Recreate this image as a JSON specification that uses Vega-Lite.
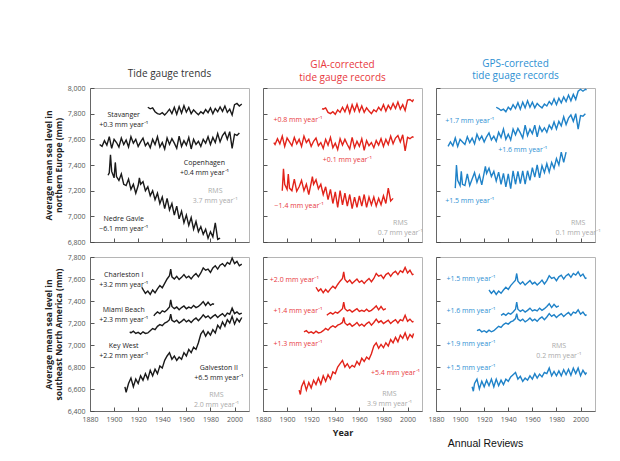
{
"$schema": "https://vega.github.io/schema/vega-lite/v6.json",
"padding": {"left": 43, "top": 58, "right": 5, "bottom": 5},
"background": "white",
"bounds": "flush",
"columns": 3,
"spacing": {"row": 15, "column": 14},
"config": {
  "view": {"stroke": "#b5b5b5", "strokeWidth": 1},
  "axis": {"grid": false, "domainColor": "#666", "tickColor": "#444", "tickWidth": 0.9, "labelColor": "#555", "labelFont": "Open Sans", "labelFontSize": 7, "labelOverlap": false, "labelFlush": false, "labelBound": false, "titleFont": "Open Sans", "titleColor": "#222"},
  "title": {"font": "Open Sans", "fontSize": 10, "fontWeight": "normal", "offset": 5, "lineHeight": 12.5},
  "text": {"font": "Open Sans", "fontSize": 7, "lineBreak": "\n", "lineHeight": 10}
},
"datasets": {
"L": [
{"k":"a1","x":1928,"y":7850},{"k":"a1","x":1930,"y":7838},{"k":"a1","x":1932,"y":7845},{"k":"a1","x":1934,"y":7815},{"k":"a1","x":1936,"y":7800},{"k":"a1","x":1938,"y":7795},{"k":"a1","x":1940,"y":7808},{"k":"a1","x":1942,"y":7790},{"k":"a1","x":1944,"y":7810},{"k":"a1","x":1946,"y":7835},{"k":"a1","x":1948,"y":7800},{"k":"a1","x":1950,"y":7850},{"k":"a1","x":1952,"y":7795},{"k":"a1","x":1954,"y":7855},{"k":"a1","x":1956,"y":7805},{"k":"a1","x":1958,"y":7862},{"k":"a1","x":1960,"y":7812},{"k":"a1","x":1962,"y":7848},{"k":"a1","x":1964,"y":7800},{"k":"a1","x":1966,"y":7830},{"k":"a1","x":1968,"y":7810},{"k":"a1","x":1970,"y":7792},{"k":"a1","x":1972,"y":7815},{"k":"a1","x":1974,"y":7800},{"k":"a1","x":1976,"y":7832},{"k":"a1","x":1978,"y":7808},{"k":"a1","x":1980,"y":7845},{"k":"a1","x":1982,"y":7800},{"k":"a1","x":1984,"y":7840},{"k":"a1","x":1986,"y":7815},{"k":"a1","x":1988,"y":7852},{"k":"a1","x":1990,"y":7818},{"k":"a1","x":1992,"y":7860},{"k":"a1","x":1994,"y":7810},{"k":"a1","x":1996,"y":7835},{"k":"a1","x":1998,"y":7790},{"k":"a1","x":2000,"y":7870},{"k":"a1","x":2002,"y":7880},{"k":"a1","x":2004,"y":7860},{"k":"a1","x":2006,"y":7875},
{"k":"a2","x":1888,"y":7560},{"k":"a2","x":1890,"y":7545},{"k":"a2","x":1892,"y":7590},{"k":"a2","x":1894,"y":7555},{"k":"a2","x":1896,"y":7620},{"k":"a2","x":1898,"y":7530},{"k":"a2","x":1900,"y":7600},{"k":"a2","x":1902,"y":7575},{"k":"a2","x":1904,"y":7540},{"k":"a2","x":1906,"y":7610},{"k":"a2","x":1908,"y":7560},{"k":"a2","x":1910,"y":7595},{"k":"a2","x":1912,"y":7540},{"k":"a2","x":1914,"y":7620},{"k":"a2","x":1916,"y":7570},{"k":"a2","x":1918,"y":7600},{"k":"a2","x":1920,"y":7545},{"k":"a2","x":1922,"y":7580},{"k":"a2","x":1924,"y":7610},{"k":"a2","x":1926,"y":7550},{"k":"a2","x":1928,"y":7575},{"k":"a2","x":1930,"y":7535},{"k":"a2","x":1932,"y":7600},{"k":"a2","x":1934,"y":7560},{"k":"a2","x":1936,"y":7620},{"k":"a2","x":1938,"y":7540},{"k":"a2","x":1940,"y":7575},{"k":"a2","x":1942,"y":7525},{"k":"a2","x":1944,"y":7610},{"k":"a2","x":1946,"y":7560},{"k":"a2","x":1948,"y":7605},{"k":"a2","x":1950,"y":7570},{"k":"a2","x":1952,"y":7530},{"k":"a2","x":1954,"y":7625},{"k":"a2","x":1956,"y":7545},{"k":"a2","x":1958,"y":7590},{"k":"a2","x":1960,"y":7555},{"k":"a2","x":1962,"y":7615},{"k":"a2","x":1964,"y":7525},{"k":"a2","x":1966,"y":7600},{"k":"a2","x":1968,"y":7560},{"k":"a2","x":1970,"y":7585},{"k":"a2","x":1972,"y":7545},{"k":"a2","x":1974,"y":7600},{"k":"a2","x":1976,"y":7570},{"k":"a2","x":1978,"y":7620},{"k":"a2","x":1980,"y":7560},{"k":"a2","x":1982,"y":7615},{"k":"a2","x":1984,"y":7575},{"k":"a2","x":1986,"y":7645},{"k":"a2","x":1988,"y":7580},{"k":"a2","x":1990,"y":7630},{"k":"a2","x":1992,"y":7655},{"k":"a2","x":1994,"y":7600},{"k":"a2","x":1996,"y":7660},{"k":"a2","x":1998,"y":7530},{"k":"a2","x":2000,"y":7640},{"k":"a2","x":2002,"y":7630},{"k":"a2","x":2004,"y":7650},
{"k":"a3","x":1895,"y":7320},{"k":"a3","x":1896,"y":7340},{"k":"a3","x":1897,"y":7480},{"k":"a3","x":1898,"y":7350},{"k":"a3","x":1900,"y":7300},{"k":"a3","x":1901,"y":7420},{"k":"a3","x":1902,"y":7310},{"k":"a3","x":1904,"y":7280},{"k":"a3","x":1906,"y":7330},{"k":"a3","x":1908,"y":7250},{"k":"a3","x":1910,"y":7240},{"k":"a3","x":1912,"y":7290},{"k":"a3","x":1914,"y":7210},{"k":"a3","x":1916,"y":7250},{"k":"a3","x":1918,"y":7180},{"k":"a3","x":1920,"y":7240},{"k":"a3","x":1921,"y":7300},{"k":"a3","x":1922,"y":7250},{"k":"a3","x":1924,"y":7270},{"k":"a3","x":1926,"y":7200},{"k":"a3","x":1928,"y":7230},{"k":"a3","x":1930,"y":7160},{"k":"a3","x":1932,"y":7200},{"k":"a3","x":1934,"y":7130},{"k":"a3","x":1936,"y":7180},{"k":"a3","x":1938,"y":7100},{"k":"a3","x":1940,"y":7150},{"k":"a3","x":1942,"y":7060},{"k":"a3","x":1944,"y":7140},{"k":"a3","x":1946,"y":7050},{"k":"a3","x":1948,"y":7100},{"k":"a3","x":1950,"y":7010},{"k":"a3","x":1952,"y":7080},{"k":"a3","x":1954,"y":6980},{"k":"a3","x":1956,"y":7040},{"k":"a3","x":1958,"y":6950},{"k":"a3","x":1960,"y":7010},{"k":"a3","x":1962,"y":6930},{"k":"a3","x":1964,"y":6990},{"k":"a3","x":1966,"y":6900},{"k":"a3","x":1968,"y":6960},{"k":"a3","x":1970,"y":6880},{"k":"a3","x":1972,"y":6920},{"k":"a3","x":1974,"y":6860},{"k":"a3","x":1976,"y":6900},{"k":"a3","x":1978,"y":6830},{"k":"a3","x":1980,"y":6880},{"k":"a3","x":1982,"y":6840},{"k":"a3","x":1984,"y":6950},{"k":"a3","x":1986,"y":6820},{"k":"a3","x":1988,"y":6830},
{"k":"b1","x":1929,"y":7840},{"k":"b1","x":1930,"y":7835},{"k":"b1","x":1932,"y":7845},{"k":"b1","x":1934,"y":7810},{"k":"b1","x":1936,"y":7800},{"k":"b1","x":1938,"y":7815},{"k":"b1","x":1940,"y":7795},{"k":"b1","x":1942,"y":7830},{"k":"b1","x":1944,"y":7810},{"k":"b1","x":1946,"y":7850},{"k":"b1","x":1948,"y":7815},{"k":"b1","x":1950,"y":7865},{"k":"b1","x":1952,"y":7805},{"k":"b1","x":1954,"y":7870},{"k":"b1","x":1956,"y":7820},{"k":"b1","x":1958,"y":7875},{"k":"b1","x":1960,"y":7815},{"k":"b1","x":1962,"y":7860},{"k":"b1","x":1964,"y":7810},{"k":"b1","x":1966,"y":7845},{"k":"b1","x":1968,"y":7820},{"k":"b1","x":1970,"y":7800},{"k":"b1","x":1972,"y":7830},{"k":"b1","x":1974,"y":7815},{"k":"b1","x":1976,"y":7850},{"k":"b1","x":1978,"y":7825},{"k":"b1","x":1980,"y":7870},{"k":"b1","x":1982,"y":7820},{"k":"b1","x":1984,"y":7865},{"k":"b1","x":1986,"y":7835},{"k":"b1","x":1988,"y":7880},{"k":"b1","x":1990,"y":7840},{"k":"b1","x":1992,"y":7890},{"k":"b1","x":1994,"y":7835},{"k":"b1","x":1996,"y":7870},{"k":"b1","x":1998,"y":7825},{"k":"b1","x":2000,"y":7905},{"k":"b1","x":2002,"y":7910},{"k":"b1","x":2004,"y":7895},{"k":"b1","x":2005,"y":7912},
{"k":"b2","x":1889,"y":7575},{"k":"b2","x":1890,"y":7560},{"k":"b2","x":1892,"y":7605},{"k":"b2","x":1894,"y":7565},{"k":"b2","x":1896,"y":7625},{"k":"b2","x":1898,"y":7545},{"k":"b2","x":1900,"y":7610},{"k":"b2","x":1902,"y":7580},{"k":"b2","x":1904,"y":7550},{"k":"b2","x":1906,"y":7615},{"k":"b2","x":1908,"y":7565},{"k":"b2","x":1910,"y":7600},{"k":"b2","x":1912,"y":7545},{"k":"b2","x":1914,"y":7625},{"k":"b2","x":1916,"y":7575},{"k":"b2","x":1918,"y":7600},{"k":"b2","x":1920,"y":7545},{"k":"b2","x":1922,"y":7585},{"k":"b2","x":1924,"y":7610},{"k":"b2","x":1926,"y":7550},{"k":"b2","x":1928,"y":7575},{"k":"b2","x":1930,"y":7530},{"k":"b2","x":1932,"y":7600},{"k":"b2","x":1934,"y":7555},{"k":"b2","x":1936,"y":7615},{"k":"b2","x":1938,"y":7535},{"k":"b2","x":1940,"y":7570},{"k":"b2","x":1942,"y":7520},{"k":"b2","x":1944,"y":7605},{"k":"b2","x":1946,"y":7555},{"k":"b2","x":1948,"y":7600},{"k":"b2","x":1950,"y":7560},{"k":"b2","x":1952,"y":7525},{"k":"b2","x":1954,"y":7615},{"k":"b2","x":1956,"y":7535},{"k":"b2","x":1958,"y":7585},{"k":"b2","x":1960,"y":7545},{"k":"b2","x":1962,"y":7605},{"k":"b2","x":1964,"y":7515},{"k":"b2","x":1966,"y":7590},{"k":"b2","x":1968,"y":7550},{"k":"b2","x":1970,"y":7575},{"k":"b2","x":1972,"y":7535},{"k":"b2","x":1974,"y":7590},{"k":"b2","x":1976,"y":7555},{"k":"b2","x":1978,"y":7605},{"k":"b2","x":1980,"y":7545},{"k":"b2","x":1982,"y":7600},{"k":"b2","x":1984,"y":7560},{"k":"b2","x":1986,"y":7625},{"k":"b2","x":1988,"y":7565},{"k":"b2","x":1990,"y":7610},{"k":"b2","x":1992,"y":7630},{"k":"b2","x":1994,"y":7580},{"k":"b2","x":1996,"y":7635},{"k":"b2","x":1998,"y":7510},{"k":"b2","x":2000,"y":7615},{"k":"b2","x":2002,"y":7605},{"k":"b2","x":2004,"y":7620},{"k":"b2","x":2005,"y":7615},
{"k":"b3","x":1896,"y":7200},{"k":"b3","x":1897,"y":7370},{"k":"b3","x":1898,"y":7250},{"k":"b3","x":1900,"y":7210},{"k":"b3","x":1901,"y":7330},{"k":"b3","x":1902,"y":7220},{"k":"b3","x":1904,"y":7200},{"k":"b3","x":1906,"y":7290},{"k":"b3","x":1908,"y":7195},{"k":"b3","x":1910,"y":7230},{"k":"b3","x":1912,"y":7280},{"k":"b3","x":1914,"y":7200},{"k":"b3","x":1916,"y":7250},{"k":"b3","x":1918,"y":7170},{"k":"b3","x":1920,"y":7260},{"k":"b3","x":1921,"y":7310},{"k":"b3","x":1922,"y":7250},{"k":"b3","x":1924,"y":7285},{"k":"b3","x":1926,"y":7215},{"k":"b3","x":1928,"y":7250},{"k":"b3","x":1930,"y":7170},{"k":"b3","x":1932,"y":7230},{"k":"b3","x":1934,"y":7130},{"k":"b3","x":1936,"y":7210},{"k":"b3","x":1938,"y":7100},{"k":"b3","x":1940,"y":7190},{"k":"b3","x":1942,"y":7070},{"k":"b3","x":1944,"y":7200},{"k":"b3","x":1946,"y":7090},{"k":"b3","x":1948,"y":7180},{"k":"b3","x":1950,"y":7080},{"k":"b3","x":1952,"y":7170},{"k":"b3","x":1954,"y":7060},{"k":"b3","x":1956,"y":7150},{"k":"b3","x":1958,"y":7070},{"k":"b3","x":1960,"y":7160},{"k":"b3","x":1962,"y":7080},{"k":"b3","x":1964,"y":7170},{"k":"b3","x":1966,"y":7070},{"k":"b3","x":1968,"y":7150},{"k":"b3","x":1970,"y":7090},{"k":"b3","x":1972,"y":7150},{"k":"b3","x":1974,"y":7080},{"k":"b3","x":1976,"y":7140},{"k":"b3","x":1978,"y":7090},{"k":"b3","x":1980,"y":7160},{"k":"b3","x":1982,"y":7100},{"k":"b3","x":1984,"y":7220},{"k":"b3","x":1986,"y":7120},{"k":"b3","x":1988,"y":7140},
{"k":"c1","x":1930,"y":7850},{"k":"c1","x":1932,"y":7840},{"k":"c1","x":1934,"y":7825},{"k":"c1","x":1936,"y":7835},{"k":"c1","x":1938,"y":7815},{"k":"c1","x":1940,"y":7850},{"k":"c1","x":1942,"y":7830},{"k":"c1","x":1944,"y":7870},{"k":"c1","x":1946,"y":7840},{"k":"c1","x":1948,"y":7885},{"k":"c1","x":1950,"y":7835},{"k":"c1","x":1952,"y":7890},{"k":"c1","x":1954,"y":7845},{"k":"c1","x":1956,"y":7900},{"k":"c1","x":1958,"y":7850},{"k":"c1","x":1960,"y":7890},{"k":"c1","x":1962,"y":7845},{"k":"c1","x":1964,"y":7880},{"k":"c1","x":1966,"y":7860},{"k":"c1","x":1968,"y":7845},{"k":"c1","x":1970,"y":7875},{"k":"c1","x":1972,"y":7860},{"k":"c1","x":1974,"y":7895},{"k":"c1","x":1976,"y":7870},{"k":"c1","x":1978,"y":7915},{"k":"c1","x":1980,"y":7870},{"k":"c1","x":1982,"y":7920},{"k":"c1","x":1984,"y":7885},{"k":"c1","x":1986,"y":7930},{"k":"c1","x":1988,"y":7895},{"k":"c1","x":1990,"y":7945},{"k":"c1","x":1992,"y":7900},{"k":"c1","x":1994,"y":7950},{"k":"c1","x":1996,"y":7910},{"k":"c1","x":1998,"y":7975},{"k":"c1","x":2000,"y":7990},{"k":"c1","x":2002,"y":7975},{"k":"c1","x":2004,"y":7990},{"k":"c1","x":2005,"y":7985},
{"k":"c2","x":1890,"y":7545},{"k":"c2","x":1892,"y":7580},{"k":"c2","x":1894,"y":7550},{"k":"c2","x":1896,"y":7610},{"k":"c2","x":1898,"y":7545},{"k":"c2","x":1900,"y":7600},{"k":"c2","x":1902,"y":7580},{"k":"c2","x":1904,"y":7560},{"k":"c2","x":1906,"y":7620},{"k":"c2","x":1908,"y":7575},{"k":"c2","x":1910,"y":7610},{"k":"c2","x":1912,"y":7565},{"k":"c2","x":1914,"y":7640},{"k":"c2","x":1916,"y":7595},{"k":"c2","x":1918,"y":7625},{"k":"c2","x":1920,"y":7580},{"k":"c2","x":1922,"y":7620},{"k":"c2","x":1924,"y":7650},{"k":"c2","x":1926,"y":7595},{"k":"c2","x":1928,"y":7625},{"k":"c2","x":1930,"y":7585},{"k":"c2","x":1932,"y":7655},{"k":"c2","x":1934,"y":7615},{"k":"c2","x":1936,"y":7680},{"k":"c2","x":1938,"y":7600},{"k":"c2","x":1940,"y":7640},{"k":"c2","x":1942,"y":7595},{"k":"c2","x":1944,"y":7680},{"k":"c2","x":1946,"y":7635},{"k":"c2","x":1948,"y":7685},{"k":"c2","x":1950,"y":7650},{"k":"c2","x":1952,"y":7610},{"k":"c2","x":1954,"y":7710},{"k":"c2","x":1956,"y":7630},{"k":"c2","x":1958,"y":7680},{"k":"c2","x":1960,"y":7645},{"k":"c2","x":1962,"y":7710},{"k":"c2","x":1964,"y":7620},{"k":"c2","x":1966,"y":7700},{"k":"c2","x":1968,"y":7660},{"k":"c2","x":1970,"y":7690},{"k":"c2","x":1972,"y":7655},{"k":"c2","x":1974,"y":7710},{"k":"c2","x":1976,"y":7680},{"k":"c2","x":1978,"y":7735},{"k":"c2","x":1980,"y":7680},{"k":"c2","x":1982,"y":7740},{"k":"c2","x":1984,"y":7705},{"k":"c2","x":1986,"y":7775},{"k":"c2","x":1988,"y":7715},{"k":"c2","x":1990,"y":7765},{"k":"c2","x":1992,"y":7790},{"k":"c2","x":1994,"y":7740},{"k":"c2","x":1996,"y":7800},{"k":"c2","x":1998,"y":7680},{"k":"c2","x":2000,"y":7785},{"k":"c2","x":2002,"y":7780},{"k":"c2","x":2004,"y":7800},
{"k":"c3","x":1896,"y":7220},{"k":"c3","x":1897,"y":7400},{"k":"c3","x":1898,"y":7280},{"k":"c3","x":1900,"y":7240},{"k":"c3","x":1901,"y":7350},{"k":"c3","x":1902,"y":7250},{"k":"c3","x":1904,"y":7240},{"k":"c3","x":1906,"y":7330},{"k":"c3","x":1908,"y":7240},{"k":"c3","x":1910,"y":7290},{"k":"c3","x":1912,"y":7340},{"k":"c3","x":1914,"y":7265},{"k":"c3","x":1916,"y":7320},{"k":"c3","x":1918,"y":7245},{"k":"c3","x":1920,"y":7340},{"k":"c3","x":1921,"y":7390},{"k":"c3","x":1922,"y":7335},{"k":"c3","x":1924,"y":7375},{"k":"c3","x":1926,"y":7310},{"k":"c3","x":1928,"y":7350},{"k":"c3","x":1930,"y":7275},{"k":"c3","x":1932,"y":7345},{"k":"c3","x":1934,"y":7250},{"k":"c3","x":1936,"y":7335},{"k":"c3","x":1938,"y":7230},{"k":"c3","x":1940,"y":7330},{"k":"c3","x":1942,"y":7215},{"k":"c3","x":1944,"y":7355},{"k":"c3","x":1946,"y":7250},{"k":"c3","x":1948,"y":7350},{"k":"c3","x":1950,"y":7255},{"k":"c3","x":1952,"y":7355},{"k":"c3","x":1954,"y":7250},{"k":"c3","x":1956,"y":7355},{"k":"c3","x":1958,"y":7280},{"k":"c3","x":1960,"y":7380},{"k":"c3","x":1962,"y":7305},{"k":"c3","x":1964,"y":7400},{"k":"c3","x":1966,"y":7300},{"k":"c3","x":1968,"y":7395},{"k":"c3","x":1970,"y":7340},{"k":"c3","x":1972,"y":7410},{"k":"c3","x":1974,"y":7345},{"k":"c3","x":1976,"y":7420},{"k":"c3","x":1978,"y":7375},{"k":"c3","x":1980,"y":7450},{"k":"c3","x":1982,"y":7400},{"k":"c3","x":1984,"y":7500},{"k":"c3","x":1986,"y":7420},{"k":"c3","x":1988,"y":7500},
{"k":"d1","x":1923,"y":7525},{"k":"d1","x":1924,"y":7505},{"k":"d1","x":1926,"y":7470},{"k":"d1","x":1928,"y":7490},{"k":"d1","x":1930,"y":7460},{"k":"d1","x":1932,"y":7500},{"k":"d1","x":1934,"y":7475},{"k":"d1","x":1936,"y":7510},{"k":"d1","x":1938,"y":7540},{"k":"d1","x":1940,"y":7520},{"k":"d1","x":1942,"y":7560},{"k":"d1","x":1944,"y":7600},{"k":"d1","x":1946,"y":7630},{"k":"d1","x":1947,"y":7690},{"k":"d1","x":1948,"y":7620},{"k":"d1","x":1950,"y":7600},{"k":"d1","x":1952,"y":7625},{"k":"d1","x":1954,"y":7595},{"k":"d1","x":1956,"y":7615},{"k":"d1","x":1958,"y":7640},{"k":"d1","x":1960,"y":7610},{"k":"d1","x":1962,"y":7625},{"k":"d1","x":1964,"y":7600},{"k":"d1","x":1966,"y":7630},{"k":"d1","x":1968,"y":7650},{"k":"d1","x":1970,"y":7620},{"k":"d1","x":1972,"y":7655},{"k":"d1","x":1974,"y":7700},{"k":"d1","x":1976,"y":7680},{"k":"d1","x":1978,"y":7690},{"k":"d1","x":1980,"y":7660},{"k":"d1","x":1982,"y":7700},{"k":"d1","x":1984,"y":7720},{"k":"d1","x":1986,"y":7690},{"k":"d1","x":1988,"y":7725},{"k":"d1","x":1990,"y":7740},{"k":"d1","x":1992,"y":7715},{"k":"d1","x":1994,"y":7750},{"k":"d1","x":1996,"y":7735},{"k":"d1","x":1998,"y":7790},{"k":"d1","x":2000,"y":7740},{"k":"d1","x":2002,"y":7760},{"k":"d1","x":2004,"y":7720},{"k":"d1","x":2006,"y":7735},
{"k":"d2","x":1933,"y":7265},{"k":"d2","x":1934,"y":7280},{"k":"d2","x":1936,"y":7300},{"k":"d2","x":1938,"y":7285},{"k":"d2","x":1940,"y":7310},{"k":"d2","x":1942,"y":7300},{"k":"d2","x":1944,"y":7320},{"k":"d2","x":1946,"y":7345},{"k":"d2","x":1947,"y":7410},{"k":"d2","x":1948,"y":7350},{"k":"d2","x":1950,"y":7330},{"k":"d2","x":1952,"y":7345},{"k":"d2","x":1954,"y":7320},{"k":"d2","x":1956,"y":7340},{"k":"d2","x":1958,"y":7355},{"k":"d2","x":1960,"y":7330},{"k":"d2","x":1962,"y":7345},{"k":"d2","x":1964,"y":7335},{"k":"d2","x":1966,"y":7360},{"k":"d2","x":1968,"y":7340},{"k":"d2","x":1970,"y":7350},{"k":"d2","x":1972,"y":7370},{"k":"d2","x":1974,"y":7395},{"k":"d2","x":1976,"y":7360},{"k":"d2","x":1978,"y":7390},{"k":"d2","x":1980,"y":7360},{"k":"d2","x":1982,"y":7375},{"k":"d2","x":1983,"y":7370},
{"k":"d3","x":1913,"y":7120},{"k":"d3","x":1914,"y":7110},{"k":"d3","x":1916,"y":7125},{"k":"d3","x":1918,"y":7105},{"k":"d3","x":1920,"y":7115},{"k":"d3","x":1922,"y":7100},{"k":"d3","x":1924,"y":7120},{"k":"d3","x":1926,"y":7105},{"k":"d3","x":1928,"y":7110},{"k":"d3","x":1930,"y":7130},{"k":"d3","x":1932,"y":7150},{"k":"d3","x":1934,"y":7140},{"k":"d3","x":1936,"y":7170},{"k":"d3","x":1938,"y":7185},{"k":"d3","x":1940,"y":7175},{"k":"d3","x":1942,"y":7200},{"k":"d3","x":1944,"y":7210},{"k":"d3","x":1946,"y":7230},{"k":"d3","x":1947,"y":7280},{"k":"d3","x":1948,"y":7225},{"k":"d3","x":1950,"y":7210},{"k":"d3","x":1952,"y":7225},{"k":"d3","x":1954,"y":7200},{"k":"d3","x":1956,"y":7215},{"k":"d3","x":1958,"y":7235},{"k":"d3","x":1960,"y":7210},{"k":"d3","x":1962,"y":7225},{"k":"d3","x":1964,"y":7205},{"k":"d3","x":1966,"y":7230},{"k":"d3","x":1968,"y":7245},{"k":"d3","x":1970,"y":7220},{"k":"d3","x":1972,"y":7245},{"k":"d3","x":1974,"y":7275},{"k":"d3","x":1976,"y":7250},{"k":"d3","x":1978,"y":7265},{"k":"d3","x":1980,"y":7240},{"k":"d3","x":1982,"y":7260},{"k":"d3","x":1984,"y":7275},{"k":"d3","x":1986,"y":7250},{"k":"d3","x":1988,"y":7270},{"k":"d3","x":1990,"y":7285},{"k":"d3","x":1992,"y":7260},{"k":"d3","x":1994,"y":7290},{"k":"d3","x":1996,"y":7280},{"k":"d3","x":1998,"y":7335},{"k":"d3","x":2000,"y":7285},{"k":"d3","x":2002,"y":7300},{"k":"d3","x":2004,"y":7280},{"k":"d3","x":2006,"y":7290},
{"k":"d4","x":1909,"y":6620},{"k":"d4","x":1910,"y":6570},{"k":"d4","x":1912,"y":6650},{"k":"d4","x":1914,"y":6700},{"k":"d4","x":1916,"y":6620},{"k":"d4","x":1918,"y":6690},{"k":"d4","x":1920,"y":6650},{"k":"d4","x":1922,"y":6720},{"k":"d4","x":1924,"y":6680},{"k":"d4","x":1926,"y":6740},{"k":"d4","x":1928,"y":6690},{"k":"d4","x":1930,"y":6770},{"k":"d4","x":1932,"y":6720},{"k":"d4","x":1934,"y":6780},{"k":"d4","x":1936,"y":6740},{"k":"d4","x":1938,"y":6810},{"k":"d4","x":1940,"y":6790},{"k":"d4","x":1942,"y":6860},{"k":"d4","x":1944,"y":6900},{"k":"d4","x":1946,"y":6930},{"k":"d4","x":1948,"y":6870},{"k":"d4","x":1950,"y":6900},{"k":"d4","x":1952,"y":6860},{"k":"d4","x":1954,"y":6890},{"k":"d4","x":1956,"y":6870},{"k":"d4","x":1958,"y":6930},{"k":"d4","x":1960,"y":6900},{"k":"d4","x":1962,"y":6960},{"k":"d4","x":1964,"y":6930},{"k":"d4","x":1966,"y":6980},{"k":"d4","x":1968,"y":6960},{"k":"d4","x":1970,"y":7020},{"k":"d4","x":1972,"y":7100},{"k":"d4","x":1974,"y":7130},{"k":"d4","x":1976,"y":7080},{"k":"d4","x":1978,"y":7120},{"k":"d4","x":1980,"y":7090},{"k":"d4","x":1982,"y":7140},{"k":"d4","x":1984,"y":7110},{"k":"d4","x":1986,"y":7180},{"k":"d4","x":1988,"y":7150},{"k":"d4","x":1990,"y":7210},{"k":"d4","x":1992,"y":7170},{"k":"d4","x":1994,"y":7230},{"k":"d4","x":1996,"y":7200},{"k":"d4","x":1998,"y":7260},{"k":"d4","x":2000,"y":7190},{"k":"d4","x":2002,"y":7240},{"k":"d4","x":2004,"y":7210},{"k":"d4","x":2006,"y":7250},
{"k":"e1","x":1924,"y":7525},{"k":"e1","x":1926,"y":7490},{"k":"e1","x":1928,"y":7510},{"k":"e1","x":1930,"y":7475},{"k":"e1","x":1932,"y":7505},{"k":"e1","x":1934,"y":7480},{"k":"e1","x":1936,"y":7510},{"k":"e1","x":1938,"y":7535},{"k":"e1","x":1940,"y":7515},{"k":"e1","x":1942,"y":7550},{"k":"e1","x":1944,"y":7580},{"k":"e1","x":1946,"y":7605},{"k":"e1","x":1947,"y":7665},{"k":"e1","x":1948,"y":7595},{"k":"e1","x":1950,"y":7570},{"k":"e1","x":1952,"y":7590},{"k":"e1","x":1954,"y":7560},{"k":"e1","x":1956,"y":7580},{"k":"e1","x":1958,"y":7600},{"k":"e1","x":1960,"y":7570},{"k":"e1","x":1962,"y":7585},{"k":"e1","x":1964,"y":7560},{"k":"e1","x":1966,"y":7585},{"k":"e1","x":1968,"y":7605},{"k":"e1","x":1970,"y":7575},{"k":"e1","x":1972,"y":7605},{"k":"e1","x":1974,"y":7650},{"k":"e1","x":1976,"y":7625},{"k":"e1","x":1978,"y":7635},{"k":"e1","x":1980,"y":7605},{"k":"e1","x":1982,"y":7640},{"k":"e1","x":1984,"y":7655},{"k":"e1","x":1986,"y":7625},{"k":"e1","x":1988,"y":7655},{"k":"e1","x":1990,"y":7670},{"k":"e1","x":1992,"y":7640},{"k":"e1","x":1994,"y":7675},{"k":"e1","x":1996,"y":7660},{"k":"e1","x":1998,"y":7705},{"k":"e1","x":2000,"y":7655},{"k":"e1","x":2002,"y":7680},{"k":"e1","x":2004,"y":7640},{"k":"e1","x":2005,"y":7645},
{"k":"e2","x":1933,"y":7270},{"k":"e2","x":1934,"y":7280},{"k":"e2","x":1936,"y":7295},{"k":"e2","x":1938,"y":7280},{"k":"e2","x":1940,"y":7300},{"k":"e2","x":1942,"y":7290},{"k":"e2","x":1944,"y":7310},{"k":"e2","x":1946,"y":7330},{"k":"e2","x":1947,"y":7390},{"k":"e2","x":1948,"y":7330},{"k":"e2","x":1950,"y":7310},{"k":"e2","x":1952,"y":7320},{"k":"e2","x":1954,"y":7300},{"k":"e2","x":1956,"y":7315},{"k":"e2","x":1958,"y":7330},{"k":"e2","x":1960,"y":7305},{"k":"e2","x":1962,"y":7315},{"k":"e2","x":1964,"y":7305},{"k":"e2","x":1966,"y":7325},{"k":"e2","x":1968,"y":7305},{"k":"e2","x":1970,"y":7315},{"k":"e2","x":1972,"y":7335},{"k":"e2","x":1974,"y":7355},{"k":"e2","x":1976,"y":7320},{"k":"e2","x":1978,"y":7350},{"k":"e2","x":1980,"y":7320},{"k":"e2","x":1982,"y":7330},
{"k":"e3","x":1914,"y":7120},{"k":"e3","x":1916,"y":7130},{"k":"e3","x":1918,"y":7110},{"k":"e3","x":1920,"y":7120},{"k":"e3","x":1922,"y":7105},{"k":"e3","x":1924,"y":7125},{"k":"e3","x":1926,"y":7110},{"k":"e3","x":1928,"y":7115},{"k":"e3","x":1930,"y":7130},{"k":"e3","x":1932,"y":7150},{"k":"e3","x":1934,"y":7135},{"k":"e3","x":1936,"y":7160},{"k":"e3","x":1938,"y":7175},{"k":"e3","x":1940,"y":7160},{"k":"e3","x":1942,"y":7180},{"k":"e3","x":1944,"y":7190},{"k":"e3","x":1946,"y":7205},{"k":"e3","x":1947,"y":7250},{"k":"e3","x":1948,"y":7200},{"k":"e3","x":1950,"y":7180},{"k":"e3","x":1952,"y":7195},{"k":"e3","x":1954,"y":7170},{"k":"e3","x":1956,"y":7185},{"k":"e3","x":1958,"y":7205},{"k":"e3","x":1960,"y":7175},{"k":"e3","x":1962,"y":7190},{"k":"e3","x":1964,"y":7170},{"k":"e3","x":1966,"y":7195},{"k":"e3","x":1968,"y":7210},{"k":"e3","x":1970,"y":7180},{"k":"e3","x":1972,"y":7205},{"k":"e3","x":1974,"y":7235},{"k":"e3","x":1976,"y":7205},{"k":"e3","x":1978,"y":7220},{"k":"e3","x":1980,"y":7195},{"k":"e3","x":1982,"y":7210},{"k":"e3","x":1984,"y":7225},{"k":"e3","x":1986,"y":7195},{"k":"e3","x":1988,"y":7215},{"k":"e3","x":1990,"y":7230},{"k":"e3","x":1992,"y":7200},{"k":"e3","x":1994,"y":7230},{"k":"e3","x":1996,"y":7220},{"k":"e3","x":1998,"y":7270},{"k":"e3","x":2000,"y":7215},{"k":"e3","x":2002,"y":7235},{"k":"e3","x":2004,"y":7210},{"k":"e3","x":2005,"y":7215},
{"k":"e4","x":1910,"y":6590},{"k":"e4","x":1911,"y":6550},{"k":"e4","x":1912,"y":6620},{"k":"e4","x":1914,"y":6670},{"k":"e4","x":1916,"y":6590},{"k":"e4","x":1918,"y":6660},{"k":"e4","x":1920,"y":6610},{"k":"e4","x":1922,"y":6680},{"k":"e4","x":1924,"y":6640},{"k":"e4","x":1926,"y":6700},{"k":"e4","x":1928,"y":6645},{"k":"e4","x":1930,"y":6720},{"k":"e4","x":1932,"y":6670},{"k":"e4","x":1934,"y":6730},{"k":"e4","x":1936,"y":6690},{"k":"e4","x":1938,"y":6755},{"k":"e4","x":1940,"y":6740},{"k":"e4","x":1942,"y":6800},{"k":"e4","x":1944,"y":6830},{"k":"e4","x":1946,"y":6860},{"k":"e4","x":1948,"y":6800},{"k":"e4","x":1950,"y":6830},{"k":"e4","x":1952,"y":6790},{"k":"e4","x":1954,"y":6815},{"k":"e4","x":1956,"y":6800},{"k":"e4","x":1958,"y":6850},{"k":"e4","x":1960,"y":6820},{"k":"e4","x":1962,"y":6880},{"k":"e4","x":1964,"y":6850},{"k":"e4","x":1966,"y":6890},{"k":"e4","x":1968,"y":6870},{"k":"e4","x":1970,"y":6920},{"k":"e4","x":1972,"y":6990},{"k":"e4","x":1974,"y":7020},{"k":"e4","x":1976,"y":6970},{"k":"e4","x":1978,"y":7005},{"k":"e4","x":1980,"y":6975},{"k":"e4","x":1982,"y":7020},{"k":"e4","x":1984,"y":6990},{"k":"e4","x":1986,"y":7050},{"k":"e4","x":1988,"y":7020},{"k":"e4","x":1990,"y":7070},{"k":"e4","x":1992,"y":7030},{"k":"e4","x":1994,"y":7090},{"k":"e4","x":1996,"y":7060},{"k":"e4","x":1998,"y":7110},{"k":"e4","x":2000,"y":7050},{"k":"e4","x":2002,"y":7095},{"k":"e4","x":2004,"y":7070},{"k":"e4","x":2005,"y":7105},
{"k":"f1","x":1924,"y":7500},{"k":"f1","x":1926,"y":7470},{"k":"f1","x":1928,"y":7495},{"k":"f1","x":1930,"y":7460},{"k":"f1","x":1932,"y":7490},{"k":"f1","x":1934,"y":7470},{"k":"f1","x":1936,"y":7500},{"k":"f1","x":1938,"y":7525},{"k":"f1","x":1940,"y":7505},{"k":"f1","x":1942,"y":7540},{"k":"f1","x":1944,"y":7565},{"k":"f1","x":1946,"y":7590},{"k":"f1","x":1947,"y":7650},{"k":"f1","x":1948,"y":7580},{"k":"f1","x":1950,"y":7555},{"k":"f1","x":1952,"y":7575},{"k":"f1","x":1954,"y":7545},{"k":"f1","x":1956,"y":7565},{"k":"f1","x":1958,"y":7585},{"k":"f1","x":1960,"y":7555},{"k":"f1","x":1962,"y":7570},{"k":"f1","x":1964,"y":7545},{"k":"f1","x":1966,"y":7565},{"k":"f1","x":1968,"y":7590},{"k":"f1","x":1970,"y":7555},{"k":"f1","x":1972,"y":7585},{"k":"f1","x":1974,"y":7630},{"k":"f1","x":1976,"y":7605},{"k":"f1","x":1978,"y":7615},{"k":"f1","x":1980,"y":7585},{"k":"f1","x":1982,"y":7620},{"k":"f1","x":1984,"y":7635},{"k":"f1","x":1986,"y":7600},{"k":"f1","x":1988,"y":7630},{"k":"f1","x":1990,"y":7645},{"k":"f1","x":1992,"y":7615},{"k":"f1","x":1994,"y":7650},{"k":"f1","x":1996,"y":7635},{"k":"f1","x":1998,"y":7665},{"k":"f1","x":2000,"y":7625},{"k":"f1","x":2002,"y":7645},{"k":"f1","x":2004,"y":7605},{"k":"f1","x":2005,"y":7610},
{"k":"f2","x":1934,"y":7270},{"k":"f2","x":1936,"y":7285},{"k":"f2","x":1938,"y":7270},{"k":"f2","x":1940,"y":7290},{"k":"f2","x":1942,"y":7280},{"k":"f2","x":1944,"y":7300},{"k":"f2","x":1946,"y":7325},{"k":"f2","x":1947,"y":7390},{"k":"f2","x":1948,"y":7325},{"k":"f2","x":1950,"y":7305},{"k":"f2","x":1952,"y":7320},{"k":"f2","x":1954,"y":7300},{"k":"f2","x":1956,"y":7315},{"k":"f2","x":1958,"y":7335},{"k":"f2","x":1960,"y":7310},{"k":"f2","x":1962,"y":7320},{"k":"f2","x":1964,"y":7310},{"k":"f2","x":1966,"y":7335},{"k":"f2","x":1968,"y":7315},{"k":"f2","x":1970,"y":7330},{"k":"f2","x":1972,"y":7350},{"k":"f2","x":1974,"y":7375},{"k":"f2","x":1976,"y":7340},{"k":"f2","x":1978,"y":7370},{"k":"f2","x":1980,"y":7345},{"k":"f2","x":1982,"y":7355},
{"k":"f3","x":1914,"y":7130},{"k":"f3","x":1916,"y":7140},{"k":"f3","x":1918,"y":7120},{"k":"f3","x":1920,"y":7130},{"k":"f3","x":1922,"y":7115},{"k":"f3","x":1924,"y":7135},{"k":"f3","x":1926,"y":7120},{"k":"f3","x":1928,"y":7130},{"k":"f3","x":1930,"y":7150},{"k":"f3","x":1932,"y":7170},{"k":"f3","x":1934,"y":7160},{"k":"f3","x":1936,"y":7185},{"k":"f3","x":1938,"y":7200},{"k":"f3","x":1940,"y":7190},{"k":"f3","x":1942,"y":7210},{"k":"f3","x":1944,"y":7220},{"k":"f3","x":1946,"y":7240},{"k":"f3","x":1947,"y":7285},{"k":"f3","x":1948,"y":7235},{"k":"f3","x":1950,"y":7220},{"k":"f3","x":1952,"y":7235},{"k":"f3","x":1954,"y":7210},{"k":"f3","x":1956,"y":7225},{"k":"f3","x":1958,"y":7245},{"k":"f3","x":1960,"y":7220},{"k":"f3","x":1962,"y":7235},{"k":"f3","x":1964,"y":7215},{"k":"f3","x":1966,"y":7240},{"k":"f3","x":1968,"y":7255},{"k":"f3","x":1970,"y":7230},{"k":"f3","x":1972,"y":7255},{"k":"f3","x":1974,"y":7285},{"k":"f3","x":1976,"y":7260},{"k":"f3","x":1978,"y":7275},{"k":"f3","x":1980,"y":7250},{"k":"f3","x":1982,"y":7270},{"k":"f3","x":1984,"y":7285},{"k":"f3","x":1986,"y":7260},{"k":"f3","x":1988,"y":7280},{"k":"f3","x":1990,"y":7295},{"k":"f3","x":1992,"y":7270},{"k":"f3","x":1994,"y":7300},{"k":"f3","x":1996,"y":7290},{"k":"f3","x":1998,"y":7320},{"k":"f3","x":2000,"y":7280},{"k":"f3","x":2002,"y":7300},{"k":"f3","x":2004,"y":7270},{"k":"f3","x":2005,"y":7275},
{"k":"f4","x":1910,"y":6620},{"k":"f4","x":1911,"y":6580},{"k":"f4","x":1912,"y":6650},{"k":"f4","x":1914,"y":6690},{"k":"f4","x":1916,"y":6600},{"k":"f4","x":1918,"y":6670},{"k":"f4","x":1920,"y":6620},{"k":"f4","x":1922,"y":6680},{"k":"f4","x":1924,"y":6630},{"k":"f4","x":1926,"y":6690},{"k":"f4","x":1928,"y":6620},{"k":"f4","x":1930,"y":6690},{"k":"f4","x":1932,"y":6630},{"k":"f4","x":1934,"y":6680},{"k":"f4","x":1936,"y":6640},{"k":"f4","x":1938,"y":6690},{"k":"f4","x":1940,"y":6670},{"k":"f4","x":1942,"y":6710},{"k":"f4","x":1944,"y":6730},{"k":"f4","x":1946,"y":6750},{"k":"f4","x":1948,"y":6690},{"k":"f4","x":1950,"y":6715},{"k":"f4","x":1952,"y":6670},{"k":"f4","x":1954,"y":6700},{"k":"f4","x":1956,"y":6680},{"k":"f4","x":1958,"y":6720},{"k":"f4","x":1960,"y":6690},{"k":"f4","x":1962,"y":6740},{"k":"f4","x":1964,"y":6700},{"k":"f4","x":1966,"y":6735},{"k":"f4","x":1968,"y":6710},{"k":"f4","x":1970,"y":6750},{"k":"f4","x":1972,"y":6740},{"k":"f4","x":1974,"y":6790},{"k":"f4","x":1976,"y":6720},{"k":"f4","x":1978,"y":6760},{"k":"f4","x":1980,"y":6720},{"k":"f4","x":1982,"y":6765},{"k":"f4","x":1984,"y":6720},{"k":"f4","x":1986,"y":6775},{"k":"f4","x":1988,"y":6730},{"k":"f4","x":1990,"y":6780},{"k":"f4","x":1992,"y":6725},{"k":"f4","x":1994,"y":6790},{"k":"f4","x":1996,"y":6740},{"k":"f4","x":1998,"y":6790},{"k":"f4","x":2000,"y":6720},{"k":"f4","x":2002,"y":6770},{"k":"f4","x":2004,"y":6735},{"k":"f4","x":2005,"y":6750}
],
"T": [
{"k":"a","t":"Stavanger\n+0.3 mm year⁻¹","x":1908,"y":7788},
{"k":"a","t":"Copenhagen\n+0.4 mm year⁻¹","x":1975,"y":7416},
{"k":"a","t":"Nedre Gavle\n−6.1 mm year⁻¹","x":1908,"y":6979},
{"k":"b","t":"+0.8 mm year⁻¹","x":1909,"y":7751},
{"k":"b","t":"+0.1 mm year⁻¹","x":1950,"y":7439},
{"k":"b","t":"−1.4 mm year⁻¹","x":1910,"y":7083},
{"k":"c","t":"+1.7 mm year⁻¹","x":1908,"y":7745},
{"k":"c","t":"+1.6 mm year⁻¹","x":1952,"y":7517},
{"k":"c","t":"+1.5 mm year⁻¹","x":1908,"y":7120},
{"k":"d","t":"Charleston I\n+3.2 mm year⁻¹","x":1908,"y":7636},
{"k":"d","t":"Miami Beach\n+2.3 mm year⁻¹","x":1908,"y":7319},
{"k":"d","t":"Key West\n+2.2 mm year⁻¹","x":1908,"y":6995},
{"k":"d","t":"Galveston II\n+6.5 mm year⁻¹","x":1987,"y":6793},
{"k":"e","t":"+2.0 mm year⁻¹","x":1906,"y":7595},
{"k":"e","t":"+1.4 mm year⁻¹","x":1909,"y":7311},
{"k":"e","t":"+1.3 mm year⁻¹","x":1909,"y":7007},
{"k":"e","t":"+5.4 mm year⁻¹","x":1990,"y":6750},
{"k":"f","t":"+1.5 mm year⁻¹","x":1909,"y":7601},
{"k":"f","t":"+1.6 mm year⁻¹","x":1909,"y":7311},
{"k":"f","t":"+1.9 mm year⁻¹","x":1909,"y":7013},
{"k":"f","t":"+1.5 mm year⁻¹","x":1909,"y":6794}
],
"R": [
{"k":"a","t":"RMS\n3.7 mm year⁻¹","x":1984,"y":7200},
{"k":"b","t":"RMS\n0.7 mm year⁻¹","x":1994,"y":6948},
{"k":"c","t":"RMS\n0.1 mm year⁻¹","x":1998,"y":6948},
{"k":"d","t":"RMS\n2.0 mm year⁻¹","x":1985,"y":6548},
{"k":"e","t":"RMS\n3.9 mm year⁻¹","x":1985,"y":6554},
{"k":"f","t":"RMS\n0.2 mm year⁻¹","x":1982,"y":6988}
]
},
"concat": [
 {"width": 159, "height": 154,
  "title": {"text": "Tide gauge trends", "color": "#333"},
  "encoding": {
   "x": {"field": "x", "type": "quantitative", "scale": {"domain": [1880, 2012], "nice": false, "zero": false},
     "axis": {"title": null, "labels": false, "values": [1880,1900,1920,1940,1960,1980,2000], "tickSize": -4}},
   "y": {"field": "y", "type": "quantitative", "scale": {"domain": [6800, 8000], "nice": false, "zero": false},
     "axis": {"title": ["Average mean sea level in", "northern Europe (mm)"], "titleFontWeight": "bold", "titleFontSize": 8.5, "titleLineHeight": 10, "titlePadding": 4, "values": [6800,7000,7200,7400,7600,7800,8000], "labelExpr": "format(datum.value, ',')", "labelPadding": 9, "tickSize": -4}}},
  "layer": [
   {"data": {"name": "L"}, "transform": [{"filter": {"field": "k", "oneOf": ["a1","a2","a3"]}}],
    "mark": {"type": "line", "color": "#1a1a1a", "strokeWidth": 1.4},
    "encoding": {"detail": {"field": "k"}}},
   {"data": {"name": "T"}, "transform": [{"filter": {"field": "k", "equal": "a"}}],
    "mark": {"type": "text", "color": "#222"},
    "encoding": {"text": {"field": "t"}}},
   {"data": {"name": "R"}, "transform": [{"filter": {"field": "k", "equal": "a"}}],
    "mark": {"type": "text", "color": "#aaa"},
    "encoding": {"text": {"field": "t"}}}
  ]},
 {"width": 159, "height": 154,
  "title": {"text": ["GIA-corrected", "tide gauge records"], "color": "#e8383d"},
  "encoding": {
   "x": {"field": "x", "type": "quantitative", "scale": {"domain": [1880, 2012], "nice": false, "zero": false},
     "axis": {"title": null, "labels": false, "values": [1880,1900,1920,1940,1960,1980,2000], "tickSize": -4}},
   "y": {"field": "y", "type": "quantitative", "scale": {"domain": [6800, 8000], "nice": false, "zero": false},
     "axis": {"title": null, "labels": false, "values": [6800,7000,7200,7400,7600,7800,8000], "tickSize": -4}}},
  "layer": [
   {"data": {"name": "L"}, "transform": [{"filter": {"field": "k", "oneOf": ["b1","b2","b3"]}}],
    "mark": {"type": "line", "color": "#e2231a", "strokeWidth": 1.4},
    "encoding": {"detail": {"field": "k"}}},
   {"data": {"name": "T"}, "transform": [{"filter": {"field": "k", "equal": "b"}}],
    "mark": {"type": "text", "color": "#e8383d"},
    "encoding": {"text": {"field": "t"}}},
   {"data": {"name": "R"}, "transform": [{"filter": {"field": "k", "equal": "b"}}],
    "mark": {"type": "text", "color": "#aaa"},
    "encoding": {"text": {"field": "t"}}}
  ]},
 {"width": 159, "height": 154,
  "title": {"text": ["GPS-corrected", "tide guage records"], "color": "#2e90d3"},
  "encoding": {
   "x": {"field": "x", "type": "quantitative", "scale": {"domain": [1880, 2012], "nice": false, "zero": false},
     "axis": {"title": null, "labels": false, "values": [1880,1900,1920,1940,1960,1980,2000], "tickSize": -4}},
   "y": {"field": "y", "type": "quantitative", "scale": {"domain": [6800, 8000], "nice": false, "zero": false},
     "axis": {"title": null, "labels": false, "values": [6800,7000,7200,7400,7600,7800,8000], "tickSize": -4}}},
  "layer": [
   {"data": {"name": "L"}, "transform": [{"filter": {"field": "k", "oneOf": ["c1","c2","c3"]}}],
    "mark": {"type": "line", "color": "#1f82c8", "strokeWidth": 1.4},
    "encoding": {"detail": {"field": "k"}}},
   {"data": {"name": "T"}, "transform": [{"filter": {"field": "k", "equal": "c"}}],
    "mark": {"type": "text", "color": "#2e90d3"},
    "encoding": {"text": {"field": "t"}}},
   {"data": {"name": "R"}, "transform": [{"filter": {"field": "k", "equal": "c"}}],
    "mark": {"type": "text", "color": "#aaa"},
    "encoding": {"text": {"field": "t"}}}
  ]},
 {"width": 159, "height": 154,
  "encoding": {
   "x": {"field": "x", "type": "quantitative", "scale": {"domain": [1880, 2012], "nice": false, "zero": false},
     "axis": {"title": null, "values": [1880,1900,1920,1940,1960,1980,2000], "labelExpr": "datum.value + ''", "labelPadding": 8, "tickSize": -4}},
   "y": {"field": "y", "type": "quantitative", "scale": {"domain": [6400, 7800], "nice": false, "zero": false},
     "axis": {"title": ["Average mean sea level in", "southeast North America (mm)"], "titleFontWeight": "bold", "titleFontSize": 8.5, "titleLineHeight": 10, "titlePadding": 4, "values": [6400,6600,6800,7000,7200,7400,7600,7800], "labelExpr": "format(datum.value, ',')", "labelPadding": 9, "tickSize": -4}}},
  "layer": [
   {"data": {"name": "L"}, "transform": [{"filter": {"field": "k", "oneOf": ["d1","d2","d3","d4"]}}],
    "mark": {"type": "line", "color": "#1a1a1a", "strokeWidth": 1.4},
    "encoding": {"detail": {"field": "k"}}},
   {"data": {"name": "T"}, "transform": [{"filter": {"field": "k", "equal": "d"}}],
    "mark": {"type": "text", "color": "#222"},
    "encoding": {"text": {"field": "t"}}},
   {"data": {"name": "R"}, "transform": [{"filter": {"field": "k", "equal": "d"}}],
    "mark": {"type": "text", "color": "#aaa"},
    "encoding": {"text": {"field": "t"}}}
  ]},
 {"width": 159, "height": 154,
  "encoding": {
   "x": {"field": "x", "type": "quantitative", "scale": {"domain": [1880, 2012], "nice": false, "zero": false},
     "axis": {"title": "Year", "titleFontWeight": "bold", "titleFontSize": 9, "titlePadding": 6, "values": [1880,1900,1920,1940,1960,1980,2000], "labelExpr": "datum.value + ''", "labelPadding": 8, "tickSize": -4}},
   "y": {"field": "y", "type": "quantitative", "scale": {"domain": [6400, 7800], "nice": false, "zero": false},
     "axis": {"title": null, "labels": false, "values": [6400,6600,6800,7000,7200,7400,7600,7800], "tickSize": -4}}},
  "layer": [
   {"data": {"name": "L"}, "transform": [{"filter": {"field": "k", "oneOf": ["e1","e2","e3","e4"]}}],
    "mark": {"type": "line", "color": "#e2231a", "strokeWidth": 1.4},
    "encoding": {"detail": {"field": "k"}}},
   {"data": {"name": "T"}, "transform": [{"filter": {"field": "k", "equal": "e"}}],
    "mark": {"type": "text", "color": "#e8383d"},
    "encoding": {"text": {"field": "t"}}},
   {"data": {"name": "R"}, "transform": [{"filter": {"field": "k", "equal": "e"}}],
    "mark": {"type": "text", "color": "#aaa"},
    "encoding": {"text": {"field": "t"}}}
  ]},
 {"width": 159, "height": 154,
  "encoding": {
   "x": {"field": "x", "type": "quantitative", "scale": {"domain": [1880, 2012], "nice": false, "zero": false},
     "axis": {"title": "Annual Reviews", "titleFont": "Liberation Sans", "titleFontWeight": "normal", "titleFontSize": 10.5, "titleColor": "#111", "titlePadding": 16, "titleX": 49, "values": [1880,1900,1920,1940,1960,1980,2000], "labelExpr": "datum.value + ''", "labelPadding": 8, "tickSize": -4}},
   "y": {"field": "y", "type": "quantitative", "scale": {"domain": [6400, 7800], "nice": false, "zero": false},
     "axis": {"title": null, "labels": false, "values": [6400,6600,6800,7000,7200,7400,7600,7800], "tickSize": -4}}},
  "layer": [
   {"data": {"name": "L"}, "transform": [{"filter": {"field": "k", "oneOf": ["f1","f2","f3","f4"]}}],
    "mark": {"type": "line", "color": "#1f82c8", "strokeWidth": 1.4},
    "encoding": {"detail": {"field": "k"}}},
   {"data": {"name": "T"}, "transform": [{"filter": {"field": "k", "equal": "f"}}],
    "mark": {"type": "text", "color": "#2e90d3"},
    "encoding": {"text": {"field": "t"}}},
   {"data": {"name": "R"}, "transform": [{"filter": {"field": "k", "equal": "f"}}],
    "mark": {"type": "text", "color": "#aaa"},
    "encoding": {"text": {"field": "t"}}}
  ]}
]
}
